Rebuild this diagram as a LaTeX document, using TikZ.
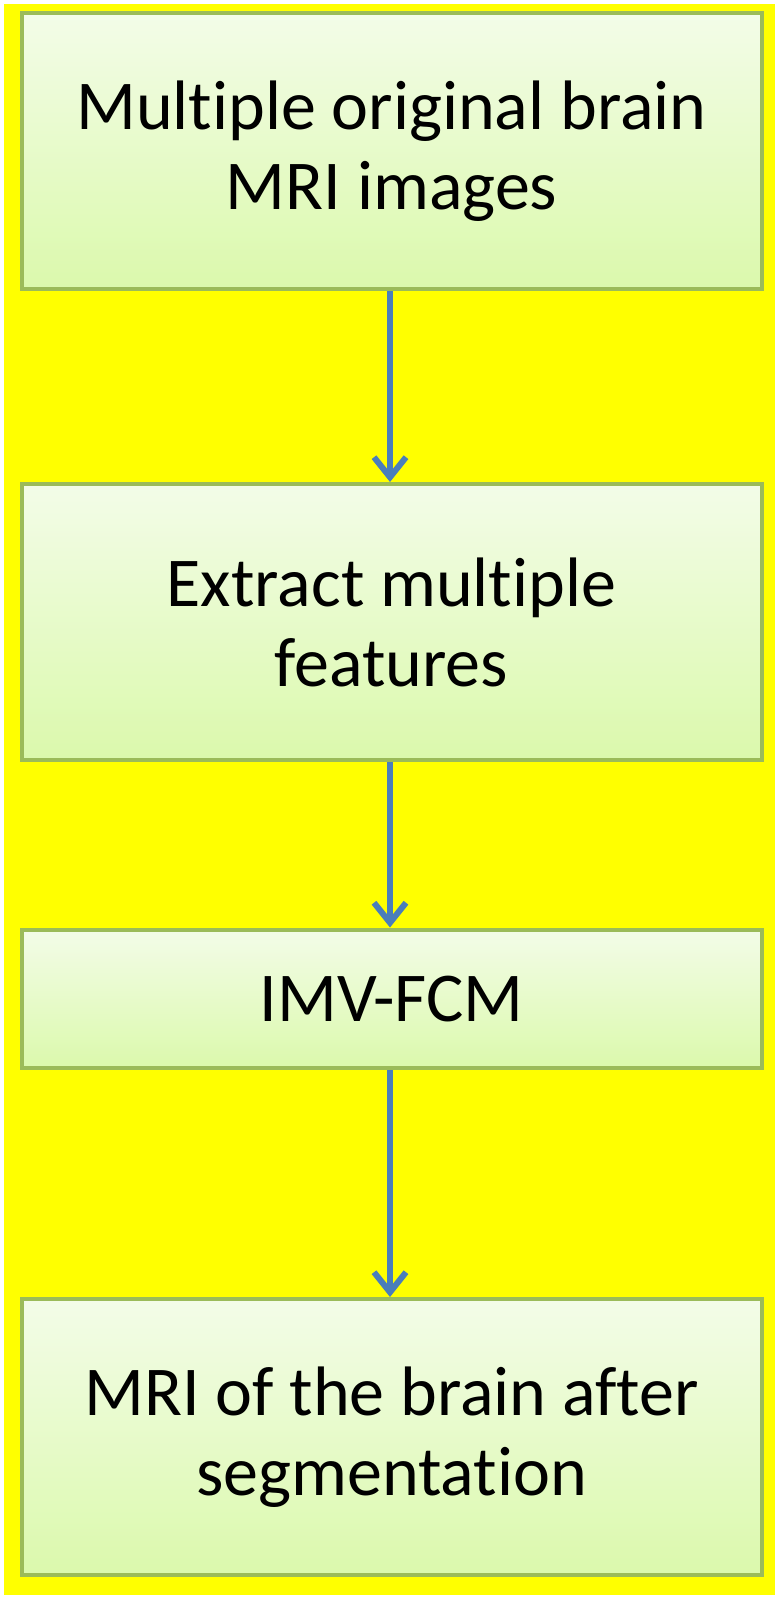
\documentclass[tikz,border=0pt]{standalone}
\usepackage{fontspec}
\setmainfont[Ligatures=NoCommon]{Carlito}
\usetikzlibrary{arrows.meta}
\definecolor{bgyellow}{RGB}{255,255,0}
\definecolor{boxborder}{RGB}{155,187,89}
\definecolor{boxtop}{RGB}{243,252,232}
\definecolor{boxbot}{RGB}{219,249,172}
\definecolor{arrowblue}{RGB}{74,126,187}
\tikzset{
  flowbox/.style={draw=boxborder, line width=4pt, top color=boxtop, bottom color=boxbot,
    minimum width=740pt, align=center, inner sep=0pt,
    font=\fontsize{70}{80}\selectfont, text=black},
  flowarrow/.style={draw=arrowblue, line width=6pt,
    -{Straight Barb[length=20pt,width=32pt,line width=6pt]}}
}
\begin{document}
\begin{tikzpicture}[x=1pt,y=-1pt]
\useasboundingbox (0,0) rectangle (780,1600);
\fill[white] (0,0) rectangle (780,1600);
\fill[bgyellow] (4,4) rectangle (775,1595);
\node[flowbox, minimum height=275.5pt] (b1) at (391.5,151.25) {Multiple original brain\\MRI images};
\node[flowbox, minimum height=276pt] (b2) at (391.5,622) {Extract multiple\\features};
\node[flowbox, minimum height=138.5pt] (b3) at (391.5,998.75) {IMV-FCM};
\node[flowbox, minimum height=276pt] (b4) at (391.5,1437) {MRI of the brain after\\segmentation};
\draw[flowarrow] ([xshift=-1.5pt]b1.south) -- ([xshift=-1.5pt]b2.north);
\draw[flowarrow] ([xshift=-1.5pt]b2.south) -- ([xshift=-1.5pt]b3.north);
\draw[flowarrow] ([xshift=-1.5pt]b3.south) -- ([xshift=-1.5pt]b4.north);
\end{tikzpicture}
\end{document}
